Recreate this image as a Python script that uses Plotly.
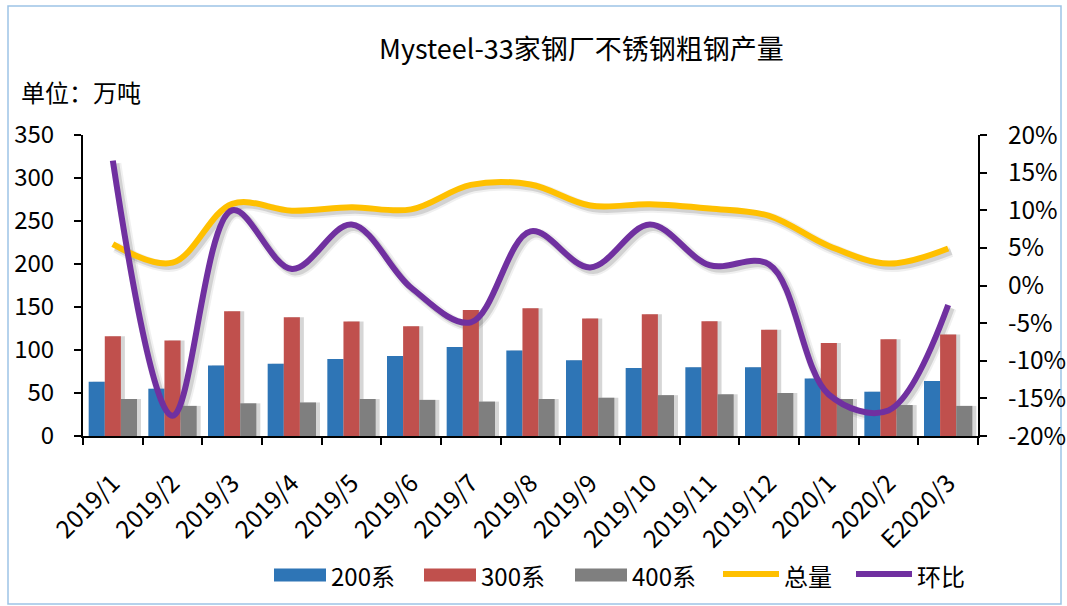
import plotly.graph_objects as go

categories = ["2019/1", "2019/2", "2019/3", "2019/4", "2019/5", "2019/6", "2019/7", "2019/8",
              "2019/9", "2019/10", "2019/11", "2019/12", "2020/1", "2020/2", "E2020/3"]
s200 = [63, 55, 82, 84, 89.5, 93, 103.5, 99.5, 88, 79, 80, 80, 67, 51.5, 64]
s300 = [116, 111, 145, 138, 133, 127.5, 146.5, 148.5, 136.5, 141.5, 133.5, 123.5, 108, 112.5, 118]
s400 = [43, 35, 38, 39, 43, 42, 40, 43, 44.5, 47.5, 48.5, 50, 43, 36, 35]
total = [223, 201.5, 270, 262, 266, 263.5, 292, 292.5, 268, 269.5, 264.5, 256, 221, 200.5, 218]
mom = [0.166, -0.173, 0.100, 0.022, 0.081, -0.003, -0.049, 0.072, 0.024, 0.081, 0.027, 0.028,
       -0.145, -0.166, -0.026]

names = ["200系", "300系", "400系", "总量", "环比"]
colors = ["#2E75B6", "#C0504D", "#7F7F7F", "#FFC000", "#7030A0"]
pct_ticks = [-0.2, -0.15, -0.1, -0.05, 0, 0.05, 0.1, 0.15, 0.2]
pct_labels = ["-20%", "-15%", "-10%", "-5%", "0%", "5%", "10%", "15%", "20%"]

FONT = "Noto Sans CJK SC"
W, H = 1067, 606
L, R, T, B = 83, 89, 135, 170          # main plot area margins (px)
EXT = 6                                # extra room for drop shadows
PW, PH = W - L - R, H - T - B
PWX, PHX = PW + EXT, PH + EXT
XR = [-0.5, len(categories) - 0.5]


def px(x):
    return (x - L) / PWX


def py(y):
    return (H - (B - EXT) - y) / PHX


main_xd = [0, PW / PWX]
main_yd = [EXT / PHX, 1]
barsh_xd = [4 / PWX, (PW + 4) / PWX]
linesh_xd = [3 / PWX, (PW + 3) / PWX]
linesh_yd = [3 / PHX, (PH + 3) / PHX]

fig = go.Figure()
# --- drop shadows (drawn first, on hidden shifted axes) ---
for vals in [s200, s300, s400]:
    fig.add_trace(go.Bar(x=categories, y=vals, xaxis="x", yaxis="y", showlegend=False,
                         hoverinfo="skip", marker=dict(color="rgba(0,0,0,0.16)", line=dict(width=0))))
for wdt, alpha in [(11, 0.06), (7, 0.12)]:
    fig.add_trace(go.Scatter(x=categories, y=total, xaxis="x2", yaxis="y2", mode="lines",
                             showlegend=False, hoverinfo="skip",
                             line=dict(color=f"rgba(0,0,0,{alpha})", width=wdt, shape="spline",
                                       smoothing=1.0)))
    fig.add_trace(go.Scatter(x=categories, y=mom, xaxis="x2", yaxis="y3", mode="lines",
                             showlegend=False, hoverinfo="skip",
                             line=dict(color=f"rgba(0,0,0,{alpha})", width=wdt, shape="spline",
                                       smoothing=1.0)))

# --- main marks ---
for vals, nm, col in zip([s200, s300, s400], names[:3], colors[:3]):
    fig.add_trace(go.Bar(x=categories, y=vals, name=nm, xaxis="x3", yaxis="y4", showlegend=False,
                         marker=dict(color=col, line=dict(width=0))))
fig.add_trace(go.Scatter(x=categories, y=total, name=names[3], mode="lines", xaxis="x3", yaxis="y4",
                         showlegend=False,
                         line=dict(color=colors[3], width=6, shape="spline", smoothing=1.0)))
fig.add_trace(go.Scatter(x=categories, y=mom, name=names[4], mode="lines", xaxis="x3", yaxis="y5",
                         showlegend=False,
                         line=dict(color=colors[4], width=6, shape="spline", smoothing=1.0)))

axis_common = dict(showline=True, linecolor="black", linewidth=2, ticks="outside", tickwidth=2,
                   tickcolor="black", showgrid=False, zeroline=False, automargin=False)
hidden = dict(visible=False, showgrid=False, zeroline=False, automargin=False)

fig.update_layout(
    width=W, height=H,
    margin=dict(l=L, r=R - EXT, t=T, b=B - EXT, autoexpand=False),
    paper_bgcolor="white", plot_bgcolor="rgba(0,0,0,0)",
    font=dict(family=FONT, size=20, color="black"),
    barmode="group", bargap=0.19, bargroupgap=0,
    showlegend=False,
    xaxis=dict(**hidden, domain=barsh_xd, anchor="y", type="category", range=XR),
    yaxis=dict(**hidden, domain=main_yd, anchor="x", range=[0, 350]),
    xaxis2=dict(**hidden, domain=linesh_xd, anchor="y2", type="category", range=XR),
    yaxis2=dict(**hidden, domain=linesh_yd, anchor="x2", range=[0, 350]),
    yaxis3=dict(**hidden, domain=linesh_yd, anchor="x2", range=[-0.2, 0.2]),
    xaxis3=dict(**axis_common, domain=main_xd, anchor="y4", type="category", range=XR, ticklen=7,
                tickson="boundaries", tickangle=-45, tickfont=dict(size=24.5),
                ticklabelstandoff=21),
    yaxis4=dict(**axis_common, domain=main_yd, anchor="x3", range=[0, 350], dtick=50, ticklen=7,
                tickfont=dict(size=24), ticklabelstandoff=15),
    yaxis5=dict(**axis_common, range=[-0.2, 0.2], tickvals=pct_ticks, ticktext=pct_labels,
                overlaying="y4", anchor="x3", side="right", ticklen=7,
                tickfont=dict(size=24.5), ticklabelstandoff=16),
)

# title and unit label
fig.add_annotation(text="Mysteel-33家钢厂不锈钢粗钢产量", xref="paper", yref="paper",
                   x=px(581), y=py(47), xanchor="center", yanchor="middle", showarrow=False,
                   font=dict(size=27, family=FONT))
fig.add_annotation(text="单位：万吨", xref="paper", yref="paper", x=px(19), y=py(92),
                   xanchor="left", yanchor="middle", showarrow=False,
                   font=dict(size=24, family=FONT))

# legend (manual, to get the wide swatches of the original)
leg_y = 575
swatch = [(274, 326), (424, 476), (575, 627), (723, 779), (856, 912)]
for i, (nm, col, (x0, x1)) in enumerate(zip(names, colors, swatch)):
    if i < 3:
        fig.add_shape(type="rect", xref="paper", yref="paper", x0=px(x0), x1=px(x1),
                      y0=py(leg_y + 6.5), y1=py(leg_y - 6.5), fillcolor=col, line=dict(width=0))
    else:
        fig.add_shape(type="line", xref="paper", yref="paper", x0=px(x0), x1=px(x1),
                      y0=py(leg_y - 1), y1=py(leg_y - 1), line=dict(color=col, width=6))
    fig.add_annotation(text=nm, xref="paper", yref="paper", x=px(x1 + 3), y=py(leg_y),
                       xanchor="left", yanchor="middle", showarrow=False,
                       font=dict(size=24, family=FONT))

# chart border
fig.add_shape(type="rect", xref="paper", yref="paper", x0=px(8), x1=px(1061), y0=py(604), y1=py(6),
              line=dict(color="#9DC3E6", width=1.5), fillcolor="rgba(0,0,0,0)", layer="below")

fig.write_html("out.html", config={"displayModeBar": False},
               post_script="document.body.style.margin='0';")
